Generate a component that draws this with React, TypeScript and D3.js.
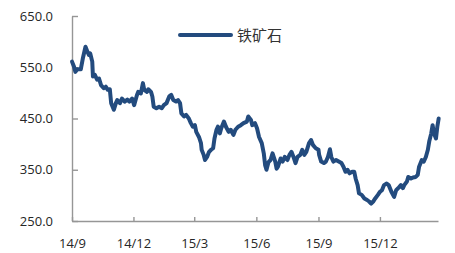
import { useRef, useEffect } from 'react';
import * as d3 from 'd3';

const dates = [
    // 2014
    '2014-09-01', '2014-09-04', '2014-09-06', '2014-09-09', '2014-09-14', '2014-09-17', '2014-09-21', '2014-09-24', '2014-09-26', '2014-09-28',
    '2014-10-01', '2014-10-02', '2014-10-05', '2014-10-08', '2014-10-11', '2014-10-14', '2014-10-18', '2014-10-21', '2014-10-24', '2014-10-27', '2014-10-29',
    '2014-11-02', '2014-11-05', '2014-11-07', '2014-11-11', '2014-11-14', '2014-11-18', '2014-11-22', '2014-11-25', '2014-11-29',
    '2014-12-02', '2014-12-06', '2014-12-08', '2014-12-12', '2014-12-15', '2014-12-17', '2014-12-21', '2014-12-23', '2014-12-27', '2014-12-29', '2014-12-31',
    // 2015
    '2015-01-04', '2015-01-08', '2015-01-12', '2015-01-15', '2015-01-19', '2015-01-23', '2015-01-26', '2015-01-29',
    '2015-02-02', '2015-02-05', '2015-02-08', '2015-02-10', '2015-02-14', '2015-02-17', '2015-02-21', '2015-02-24', '2015-02-27',
    '2015-03-02', '2015-03-04', '2015-03-08', '2015-03-11', '2015-03-12', '2015-03-15', '2015-03-17', '2015-03-20', '2015-03-23', '2015-03-26', '2015-03-29', '2015-03-31',
    '2015-04-03', '2015-04-05', '2015-04-08', '2015-04-10', '2015-04-14', '2015-04-17', '2015-04-21', '2015-04-24', '2015-04-28',
    '2015-05-01', '2015-05-05', '2015-05-09', '2015-05-13', '2015-05-18', '2015-05-20', '2015-05-24', '2015-05-26', '2015-05-30',
    '2015-06-02', '2015-06-05', '2015-06-09', '2015-06-12', '2015-06-14', '2015-06-16', '2015-06-19', '2015-06-22', '2015-06-25', '2015-06-29',
    '2015-07-01', '2015-07-03', '2015-07-07', '2015-07-10', '2015-07-13', '2015-07-17', '2015-07-20', '2015-07-23', '2015-07-26', '2015-07-29',
    '2015-08-01', '2015-08-05', '2015-08-08', '2015-08-11', '2015-08-14', '2015-08-18', '2015-08-21', '2015-08-24', '2015-08-28',
    '2015-09-01', '2015-09-02', '2015-09-05', '2015-09-09', '2015-09-12', '2015-09-15', '2015-09-18', '2015-09-20', '2015-09-23', '2015-09-27',
    '2015-10-01', '2015-10-05', '2015-10-08', '2015-10-11', '2015-10-14', '2015-10-17', '2015-10-21', '2015-10-24', '2015-10-26', '2015-10-29', '2015-10-31',
    '2015-11-04', '2015-11-08', '2015-11-12', '2015-11-15', '2015-11-18', '2015-11-21', '2015-11-24', '2015-11-28',
    '2015-12-01', '2015-12-04', '2015-12-07', '2015-12-11', '2015-12-14', '2015-12-18', '2015-12-22', '2015-12-25', '2015-12-28',
    // 2016
    '2016-01-01', '2016-01-04', '2016-01-06', '2016-01-10', '2016-01-12', '2016-01-16', '2016-01-19', '2016-01-23', '2016-01-26', '2016-01-28',
    '2016-02-01', '2016-02-04', '2016-02-07', '2016-02-10', '2016-02-12', '2016-02-15', '2016-02-17', '2016-02-19', '2016-02-22', '2016-02-24', '2016-02-26',
];

const prices = [
    // 2014
    561, 551, 541, 546, 546, 567, 590, 580, 574, 577,
    561, 532, 535, 526, 528, 515, 509, 512, 506, 507, 480,
    467, 480, 486, 480, 489, 483, 487, 483, 489,
    476, 495, 502, 499, 519, 506, 502, 507, 502, 493, 473,
    // 2015
    470, 473, 470, 476, 480, 493, 496, 486,
    483, 486, 480, 460, 454, 457, 450, 441, 434,
    437, 424, 414, 402, 389, 379, 369, 375, 385, 389, 392, 411,
    428, 434, 421, 431, 444, 434, 424, 428, 418,
    428, 434, 437, 441, 444, 454, 447, 437, 441,
    431, 414, 402, 382, 359, 350, 365, 369, 382, 366,
    352, 356, 372, 366, 375, 369, 379, 385, 375, 363,
    375, 379, 389, 379, 385, 402, 408, 398, 392,
    389, 379, 366, 363, 366, 375, 390, 375, 366, 369,
    366, 363, 356, 346, 350, 343, 346, 346, 333, 320, 304,
    301, 294, 291, 288, 284, 288, 294, 301,
    307, 310, 320, 323, 320, 307, 297, 310, 314,
    // 2016
    320, 314, 320, 327, 336, 333, 335, 336, 340, 356,
    369, 366, 375, 389, 405, 421, 437, 421, 411, 434, 450,
];

const xTickDates = ['2014-09-01', '2014-12-01', '2015-03-01', '2015-06-01', '2015-09-01', '2015-12-01'];
const xTickLabels = ['14/9', '14/12', '15/3', '15/6', '15/9', '15/12'];
const yTicks = [250, 350, 450, 550, 650];
const seriesName = '铁矿石';

export default function IronOreChart() {
    const chartRef = useRef<SVGSVGElement>(null);

    useEffect(() => {
        if (!chartRef.current) return;
        document.body.style.margin = '0';

        const svg = d3.select(chartRef.current);
        svg.selectAll('*').remove();

        const width = 455;
        const height = 253;
        const margin = { top: 16, right: 17, bottom: 32, left: 72 };
        const innerWidth = width - margin.left - margin.right;
        const innerHeight = height - margin.top - margin.bottom;

        const parse = d3.utcParse('%Y-%m-%d');
        const data = dates.map((d, i) => ({ date: parse(d)!, value: prices[i] }));

        const g = svg
            .attr('width', width)
            .attr('height', height)
            .append('g')
            .attr('transform', `translate(${margin.left},${margin.top})`);

        // Scales
        const x = d3.scaleUtc()
            .domain([parse('2014-09-01')!, parse('2016-02-25')!])
            .range([0, innerWidth]);

        const y = d3.scaleLinear()
            .domain([250, 650])
            .range([innerHeight, 0]);

        const font = '"Open Sans", "Noto Sans", sans-serif';

        // Axes
        const xAxis = g.append('g')
            .attr('transform', `translate(0,${innerHeight})`)
            .call(
                d3.axisBottom(x)
                    .tickValues(xTickDates.map(d => parse(d)!))
                    .tickFormat((_, i) => xTickLabels[i])
                    .tickSizeInner(-4)
                    .tickSizeOuter(0)
                    .tickPadding(18)
            );

        const yAxis = g.append('g')
            .call(
                d3.axisLeft(y)
                    .tickValues(yTicks)
                    .tickFormat(d => d3.format('.1f')(d as number))
                    .tickSizeInner(-6)
                    .tickSizeOuter(0)
                    .tickPadding(19)
            );

        [xAxis, yAxis].forEach(ax => {
            ax.selectAll('text')
                .attr('fill', '#262626')
                .style('font-family', font)
                .style('font-size', '13px');
            ax.selectAll('.domain, .tick line')
                .attr('stroke', '#969696')
                .attr('stroke-width', 1.4);
        });

        // Line
        const line = d3.line<{ date: Date; value: number }>()
            .x(d => x(d.date))
            .y(d => y(d.value));

        g.append('path')
            .datum(data)
            .attr('fill', 'none')
            .attr('stroke', '#234b7e')
            .attr('stroke-width', 4)
            .attr('stroke-linejoin', 'round')
            .attr('stroke-linecap', 'round')
            .attr('d', line);

        // Legend
        const legend = svg.append('g').attr('transform', 'translate(180,35)');
        legend.append('line')
            .attr('x1', 0)
            .attr('x2', 51)
            .attr('stroke', '#234b7e')
            .attr('stroke-width', 4)
            .attr('stroke-linecap', 'round');
        legend.append('text')
            .attr('x', 57)
            .attr('y', 5.5)
            .attr('fill', '#333')
            .style('font-family', '"Noto Sans CJK SC", sans-serif')
            .style('font-size', '15px')
            .text(seriesName);
    }, []);

    return (
        <div style={{ position: 'absolute', left: 0, top: 0 }}>
            <svg ref={chartRef} style={{ display: 'block' }}></svg>
        </div>
    );
}
